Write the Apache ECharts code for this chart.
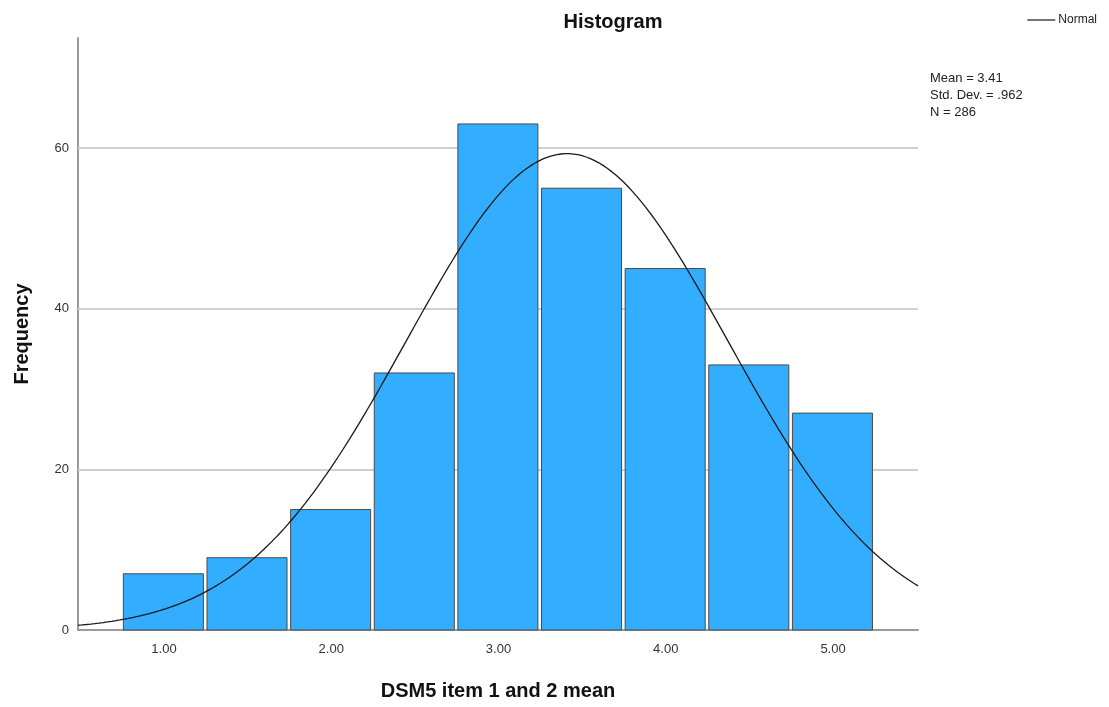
<!DOCTYPE html>
<html>
<head>
<meta charset="utf-8">
<script src="https://cdn.jsdelivr.net/npm/echarts@6/dist/echarts.min.js"></script>
<style>
  html, body { margin: 0; padding: 0; background: #fff; }
  #chart { width: 1109px; height: 707px; }
</style>
</head>
<body>
<div id="chart"></div>
<script>
// Histogram bins: centre of each bin and its frequency
const binCenters = [1.0, 1.5, 2.0, 2.5, 3.0, 3.5, 4.0, 4.5, 5.0];
const frequencies = [7, 9, 15, 32, 63, 55, 45, 33, 27];
const binWidth = 0.5;

// Summary statistics shown beside the plot
const MEAN = 3.41;
const SD = 0.962;
const N = 286;

const xTickValues = [1, 2, 3, 4, 5];
const yTickValues = [0, 20, 40, 60];
const X_MIN = 0.486, X_MAX = 5.508, Y_MAX = 73.7;

// Fitted normal curve, scaled to counts per bin
const normalX = [];
const normalY = [];
for (let i = 0; i <= 200; i++) {
  const x = X_MIN + (X_MAX - X_MIN) * i / 200;
  const z = (x - MEAN) / SD;
  normalX.push(x);
  normalY.push(N * binWidth / (SD * Math.sqrt(2 * Math.PI)) * Math.exp(-0.5 * z * z));
}

const FONT = '"Liberation Sans", Arial, sans-serif';
const chart = echarts.init(document.getElementById('chart'), null, { renderer: 'canvas' });

chart.setOption({
  animation: false,
  backgroundColor: '#ffffff',
  title: {
    text: 'Histogram',
    left: 608, top: 7, textAlign: 'center',
    textStyle: { fontFamily: FONT, fontSize: 20, fontWeight: 'bold', color: '#111' }
  },
  legend: {
    right: 7, top: 9,
    itemWidth: 28, itemHeight: 10, itemGap: 4,
    data: [{ name: 'Normal', icon: 'path://M0,4.4 L28,4.4 L28,5.6 L0,5.6 Z' }],
    textStyle: { fontFamily: FONT, fontSize: 12, color: '#222', padding: [0, 0, 0, -2] }
  },
  graphic: [{
    type: 'text', left: 930, top: 70,
    style: {
      text: 'Mean = 3.41\nStd. Dev. = .962\nN = 286',
      fontFamily: FONT, fontSize: 13, lineHeight: 17, fill: '#222'
    }
  }],
  grid: { left: 78, right: 191, top: 38, bottom: 77, outerBoundsMode: 'none', containLabel: false },
  xAxis: {
    type: 'value', min: X_MIN, max: X_MAX,
    name: 'DSM5 item 1 and 2 mean', nameLocation: 'middle', nameGap: 51,
    nameTextStyle: { fontFamily: FONT, fontSize: 20, fontWeight: 'bold', color: '#111' },
    axisLine: { show: true, lineStyle: { color: '#9a9a9a', width: 2 } },
    axisTick: { show: false },
    splitLine: { show: false },
    axisLabel: {
      customValues: xTickValues, margin: 13,
      formatter: v => v.toFixed(2),
      fontFamily: FONT, fontSize: 13, color: '#333'
    }
  },
  yAxis: {
    type: 'value', min: 0, max: Y_MAX,
    name: 'Frequency', nameLocation: 'middle', nameGap: 46,
    nameTextStyle: { fontFamily: FONT, fontSize: 20, fontWeight: 'bold', color: '#111' },
    axisLine: { show: true, lineStyle: { color: '#9a9a9a', width: 2 } },
    axisTick: { show: false },
    splitLine: { show: false },
    axisLabel: {
      customValues: yTickValues, margin: 9,
      fontFamily: FONT, fontSize: 13, color: '#333'
    }
  },
  series: [
    {
      // horizontal reference lines, kept behind the bars
      type: 'line', data: [], silent: true, z: 1,
      markLine: {
        silent: true, symbol: 'none', label: { show: false }, z: 1,
        lineStyle: { color: '#cfcfcf', width: 2, type: 'solid' },
        data: yTickValues.filter(v => v > 0).map(v => ({ yAxis: v }))
      }
    },
    {
      type: 'custom', name: 'Frequency',
      data: binCenters.map((c, i) => [c, frequencies[i]]),
      renderItem: (params, api) => {
        const c = api.value(0), f = api.value(1);
        const p0 = api.coord([c - binWidth / 2, f]);
        const p1 = api.coord([c + binWidth / 2, 0]);
        return {
          type: 'rect',
          shape: { x: p0[0] + 1.2, y: p0[1], width: p1[0] - p0[0] - 3.6, height: p1[1] - p0[1] },
          style: { fill: '#33adff', stroke: '#4a4a4a', lineWidth: 1 }
        };
      },
      z: 3
    },
    {
      type: 'line', name: 'Normal',
      data: normalX.map((x, i) => [x, normalY[i]]),
      showSymbol: false, smooth: false,
      lineStyle: { color: '#1a1a1a', width: 1.3 },
      itemStyle: { color: '#1a1a1a' },
      z: 5
    }
  ]
});
</script>
</body>
</html>
